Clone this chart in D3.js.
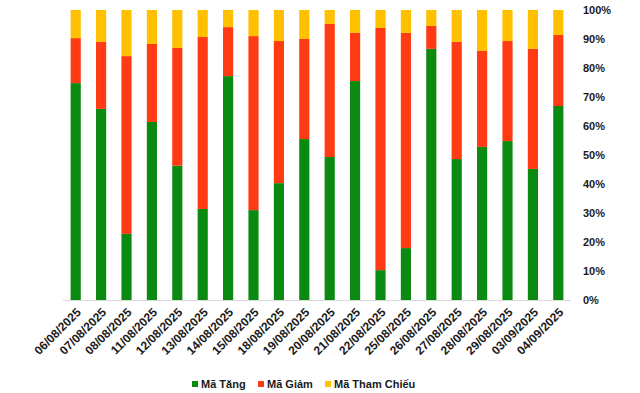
<!DOCTYPE html>
<html>
<head>
<meta charset="utf-8">
<script src="https://cdn.jsdelivr.net/npm/d3@7"></script>
<style>
  body { margin: 0; background: #fff; }
  text { font-family: "Liberation Sans", Arial, sans-serif; font-weight: bold; fill: #1a1a1a; }
</style>
</head>
<body>
<script>
// chart data (percent of codes per session)
var dates = ["06/08/2025","07/08/2025","08/08/2025","11/08/2025","12/08/2025","13/08/2025","14/08/2025",
  "15/08/2025","18/08/2025","19/08/2025","20/08/2025","21/08/2025","22/08/2025","25/08/2025","26/08/2025",
  "27/08/2025","28/08/2025","29/08/2025","03/09/2025","04/09/2025"];
var maTang = [74.8,65.9,22.8,61.4,46.3,31.4,77.2,31.0,40.3,55.5,49.3,75.5,10.3,17.9,86.6,48.6,52.8,54.8,45.2,66.9];
var maGiam = [15.5,23.1,61.3,26.9,40.6,59.3,16.9,60.0,49.0,34.5,45.9,16.6,83.5,74.2,7.9,40.4,33.1,34.5,41.4,24.5];
var maThamChieu = [9.7,11.0,15.9,11.7,13.1,9.3,5.9,9.0,10.7,10.0,4.8,7.9,6.2,7.9,5.5,11.0,14.1,10.7,13.4,8.6];
var seriesNames = ["Mã Tăng","Mã Giảm","Mã Tham Chiếu"];
var colors = ["#0b8a12","#ff3b14","#ffc000"];

var w = 640, h = 393;
var svg = d3.select("body").append("svg")
  .attr("width", w)
  .attr("height", h);

var rows = dates.map(function(d, i){
  return {date: d, tang: maTang[i], giam: maGiam[i], tham: maThamChieu[i]};
});
var keys = ["tang","giam","tham"];
var stack = d3.stack().keys(keys).offset(d3.stackOffsetExpand);
var layers = stack(rows);

var x = d3.scaleBand()
  .domain(dates)
  .range([63, 571])
  .paddingInner(0.6)
  .paddingOuter(0.3);

var y = d3.scaleLinear()
  .domain([0, 1])
  .range([300, 10]);

// bars
svg.selectAll(".layer")
  .data(layers)
  .enter()
  .append("g")
  .attr("class", "layer")
  .attr("fill", function(d, i){ return colors[i]; })
  .selectAll("rect")
  .data(function(d){ return d; })
  .enter()
  .append("rect")
  .attr("x", function(d){ return x(d.data.date); })
  .attr("width", x.bandwidth())
  .attr("y", function(d){ return y(d[1]); })
  .attr("height", function(d){ return y(d[0]) - y(d[1]); });

// baseline
svg.append("line")
  .attr("x1", 63).attr("x2", 571)
  .attr("y1", 300.5).attr("y2", 300.5)
  .attr("stroke", "#d9d9d9")
  .attr("stroke-width", 1);

// y axis on the right
var yAxis = d3.axisRight(y)
  .tickValues(d3.range(0, 1.01, 0.1))
  .tickFormat(d3.format(".0%"))
  .tickSize(0)
  .tickPadding(12);
var yg = svg.append("g")
  .attr("transform", "translate(571,0)")
  .call(yAxis);
yg.select(".domain").remove();
yg.selectAll("text")
  .style("font-size", "11px")
  .style("font-family", "'Liberation Sans', Arial, sans-serif")
  .style("font-weight", "bold")
  .attr("fill", "#1a1a1a");

// x labels rotated
svg.selectAll(".xlab")
  .data(dates)
  .enter()
  .append("text")
  .attr("class", "xlab")
  .attr("text-anchor", "end")
  .attr("font-size", "12px")
  .attr("transform", function(d){
    var cx = x(d) + x.bandwidth() / 2 + 3;
    return "translate(" + cx + ",310) rotate(-45)";
  })
  .attr("dy", "0.35em")
  .text(function(d){ return d; });

// legend
var legendX = [192, 258, 325];
var legend = svg.selectAll(".legend")
  .data(seriesNames)
  .enter()
  .append("g")
  .attr("class", "legend")
  .attr("transform", function(d, i){ return "translate(" + legendX[i] + ",384)"; });
legend.append("rect")
  .attr("x", 0).attr("y", -3)
  .attr("width", 6).attr("height", 6)
  .attr("fill", function(d, i){ return colors[i]; });
legend.append("text")
  .attr("x", 9)
  .attr("y", 0)
  .attr("dy", "0.35em")
  .attr("font-size", "11px")
  .text(function(d){ return d; });
</script>
</body>
</html>
